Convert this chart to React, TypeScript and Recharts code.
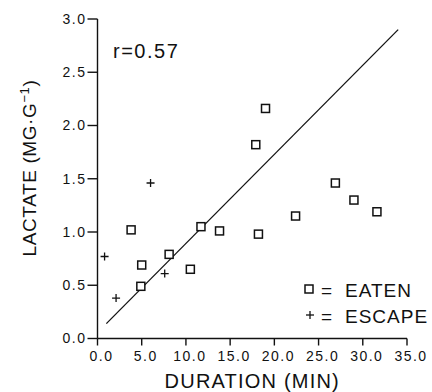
import { ScatterChart, Scatter, XAxis, YAxis, Legend, Label } from 'recharts';

// lactate vs. duration
const eatenDuration = [3.8, 5.0, 4.9, 8.1, 10.5, 11.7, 13.8, 18.2, 17.9, 19.0, 22.4, 26.9, 29.0, 31.6];
const eatenLactate = [1.02, 0.69, 0.49, 0.79, 0.65, 1.05, 1.01, 0.98, 1.82, 2.16, 1.15, 1.46, 1.3, 1.19];
const escapeDuration = [0.8, 2.1, 6.0, 7.6];
const escapeLactate = [0.77, 0.38, 1.46, 0.61];
// regression line end points
const fitDuration = [1.0, 34.0];
const fitLactate = [0.14, 2.9];

const durationTicks = [0, 5, 10, 15, 20, 25, 30, 35];
const lactateTicks = [0, 0.5, 1, 1.5, 2, 2.5, 3];
const keyNames = ['EATEN', 'ESCAPE'];

const toPoints = (xs: number[], ys: number[]) => xs.map((x, i) => ({ x, y: ys[i] }));

const eaten = toPoints(eatenDuration, eatenLactate);
const escape = toPoints(escapeDuration, escapeLactate);
const fit = toPoints(fitDuration, fitLactate);

const FONT = '"Liberation Sans", Arial, sans-serif';
const INK = '#111';
const axisStroke = { stroke: INK, strokeWidth: 1.4 };

const SquareDot = ({ cx, cy }: any) => (
    <rect x={cx - 4} y={cy - 4} width={8} height={8} fill="#fff" stroke={INK} strokeWidth={1.5} />
);

const PlusDot = ({ cx, cy }: any) => (
    <g stroke={INK} strokeWidth={1.3}>
        <line x1={cx - 4} y1={cy} x2={cx + 4} y2={cy} />
        <line x1={cx} y1={cy - 4} x2={cx} y2={cy + 4} />
    </g>
);

const NoDot = () => <g />;

const YTitle = () => (
    <text
        x={36}
        y={168}
        transform="rotate(-90, 36, 168)"
        textAnchor="middle"
        fontFamily={FONT}
        fontSize={19}
        letterSpacing={0.6}
        fill={INK}
    >
        {'LACTATE  (MG\u00B7G'}
        <tspan dy={-7} fontSize={13}>{'\u22121'}</tspan>
        <tspan dy={7}>)</tspan>
    </text>
);

const KeyContent = ({ payload }: any) => {
    const items = (payload || []).filter((entry: any) => keyNames.includes(entry.value));
    return (
        <svg width={132} height={60} style={{ display: 'block' }}>
            {items.map((entry: any, i: number) => {
                const cy = 14 + i * 26;
                return (
                    <g key={entry.value}>
                        {entry.value === 'EATEN' ? <SquareDot cx={9} cy={cy} /> : <PlusDot cx={10} cy={cy} />}
                        <text x={21} y={cy + 8} fontFamily={FONT} fontSize={19} fill={INK}>=</text>
                        <text x={45} y={cy + 8} fontFamily={FONT} fontSize={19} letterSpacing={1} fill={INK}>
                            {entry.value}
                        </text>
                    </g>
                );
            })}
        </svg>
    );
};

export default function App() {
    return (
        <div style={{ position: 'absolute', left: 0, top: 0, width: 432, height: 392, background: '#fff' }}>
            <ScatterChart width={432} height={392} margin={{ top: 19, right: 25, bottom: 52.5, left: 96.5 }}>
                <XAxis
                    type="number"
                    dataKey="x"
                    domain={[0, 35]}
                    ticks={durationTicks}
                    tickFormatter={(v: number) => v.toFixed(1)}
                    height={1}
                    tickSize={7}
                    tickMargin={6}
                    axisLine={axisStroke}
                    tickLine={axisStroke}
                    tick={{ fill: INK, fontSize: 14, fontFamily: FONT, letterSpacing: 1.5, dx: 4 }}
                    allowDataOverflow
                >
                    <Label
                        value="DURATION (MIN)"
                        position="bottom"
                        offset={34}
                        style={{ fill: INK, fontSize: 20, fontFamily: FONT, letterSpacing: 1.2 }}
                    />
                </XAxis>
                <YAxis
                    type="number"
                    dataKey="y"
                    domain={[0, 3]}
                    ticks={lactateTicks}
                    tickFormatter={(v: number) => v.toFixed(1)}
                    width={1}
                    tickSize={10}
                    tickMargin={1}
                    axisLine={axisStroke}
                    tickLine={axisStroke}
                    tick={{ fill: INK, fontSize: 14, fontFamily: FONT, letterSpacing: 1.5 }}
                    allowDataOverflow
                >
                    <Label content={<YTitle />} />
                </YAxis>
                <Legend
                    layout="vertical"
                    align="center"
                    verticalAlign="middle"
                    content={<KeyContent />}
                    wrapperStyle={{ left: 300, top: 275, width: 132, height: 60 }}
                />
                <Scatter
                    name="fit"
                    data={fit}
                    line={{ stroke: INK, strokeWidth: 1.3 }}
                    shape={<NoDot />}
                    legendType="none"
                    isAnimationActive={false}
                />
                <Scatter name="EATEN" data={eaten} shape={<SquareDot />} isAnimationActive={false} />
                <Scatter name="ESCAPE" data={escape} shape={<PlusDot />} isAnimationActive={false} />
            </ScatterChart>
            <svg width={432} height={392} style={{ position: 'absolute', left: 0, top: 0, pointerEvents: 'none' }}>
                <text x={113} y={58} fontFamily={FONT} fontSize={20} letterSpacing={1.5} fill={INK}>r=0.57</text>
            </svg>
        </div>
    );
}
